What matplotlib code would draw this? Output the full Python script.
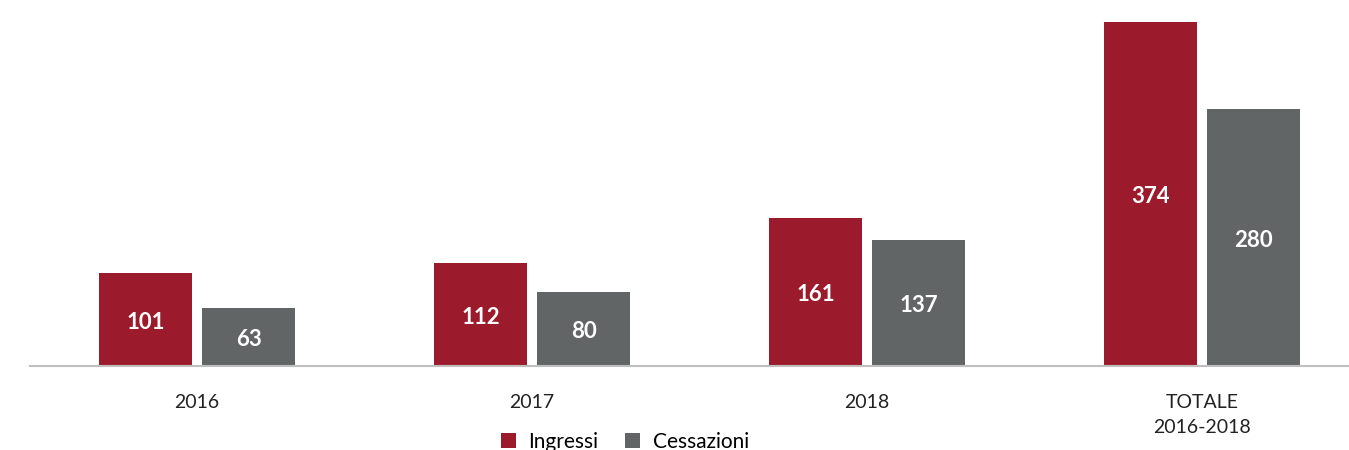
import numpy as np
import matplotlib.pyplot as plt

plt.rcParams['font.family'] = ['Lato', 'DejaVu Sans']

categories = ['2016', '2017', '2018', 'TOTALE\n2016-2018']
ingressi = [101, 112, 161, 374]
cessazioni = [63, 80, 137, 280]

red = '#9B1A2B'
grey = '#626566'

fig = plt.figure(figsize=(13.49, 4.5), dpi=100)
ax = fig.add_axes([30 / 1349, 84 / 450, 1319 / 1349, 366 / 450])

x = np.arange(len(categories))
w = 0.278
off = 0.154
b1 = ax.bar(x - off, ingressi, w, color=red, label='Ingressi')
b2 = ax.bar(x + off, cessazioni, w, color=grey, label='Cessazioni')

for bars, vals in ((b1, ingressi), (b2, cessazioni)):
    for b, v in zip(bars, vals):
        ax.text(b.get_x() + b.get_width() / 2, v / 2 - 3, str(v), ha='center', va='center',
                color='white', fontsize=16, fontweight='bold')

ax.set_xlim(-0.4985, 3.439)
ax.set_ylim(0, 398)
ax.set_xticks(x)
ax.set_xticklabels(categories, fontsize=14, color='#222222', linespacing=1.6, va='top')
ax.tick_params(axis='x', length=0, pad=20)
ax.set_yticks([])
for s in ['top', 'right', 'left']:
    ax.spines[s].set_visible(False)
ax.spines['bottom'].set_color('#BFBFBF')
ax.spines['bottom'].set_linewidth(1.5)

fig.legend(loc='center', bbox_to_anchor=(625 / 1349, 1 - 442 / 450), ncol=2, frameon=False,
           fontsize=15, handlelength=0.7, handleheight=0.7, columnspacing=1.3, handletextpad=0.6)

fig.savefig('out.png', dpi=100)
